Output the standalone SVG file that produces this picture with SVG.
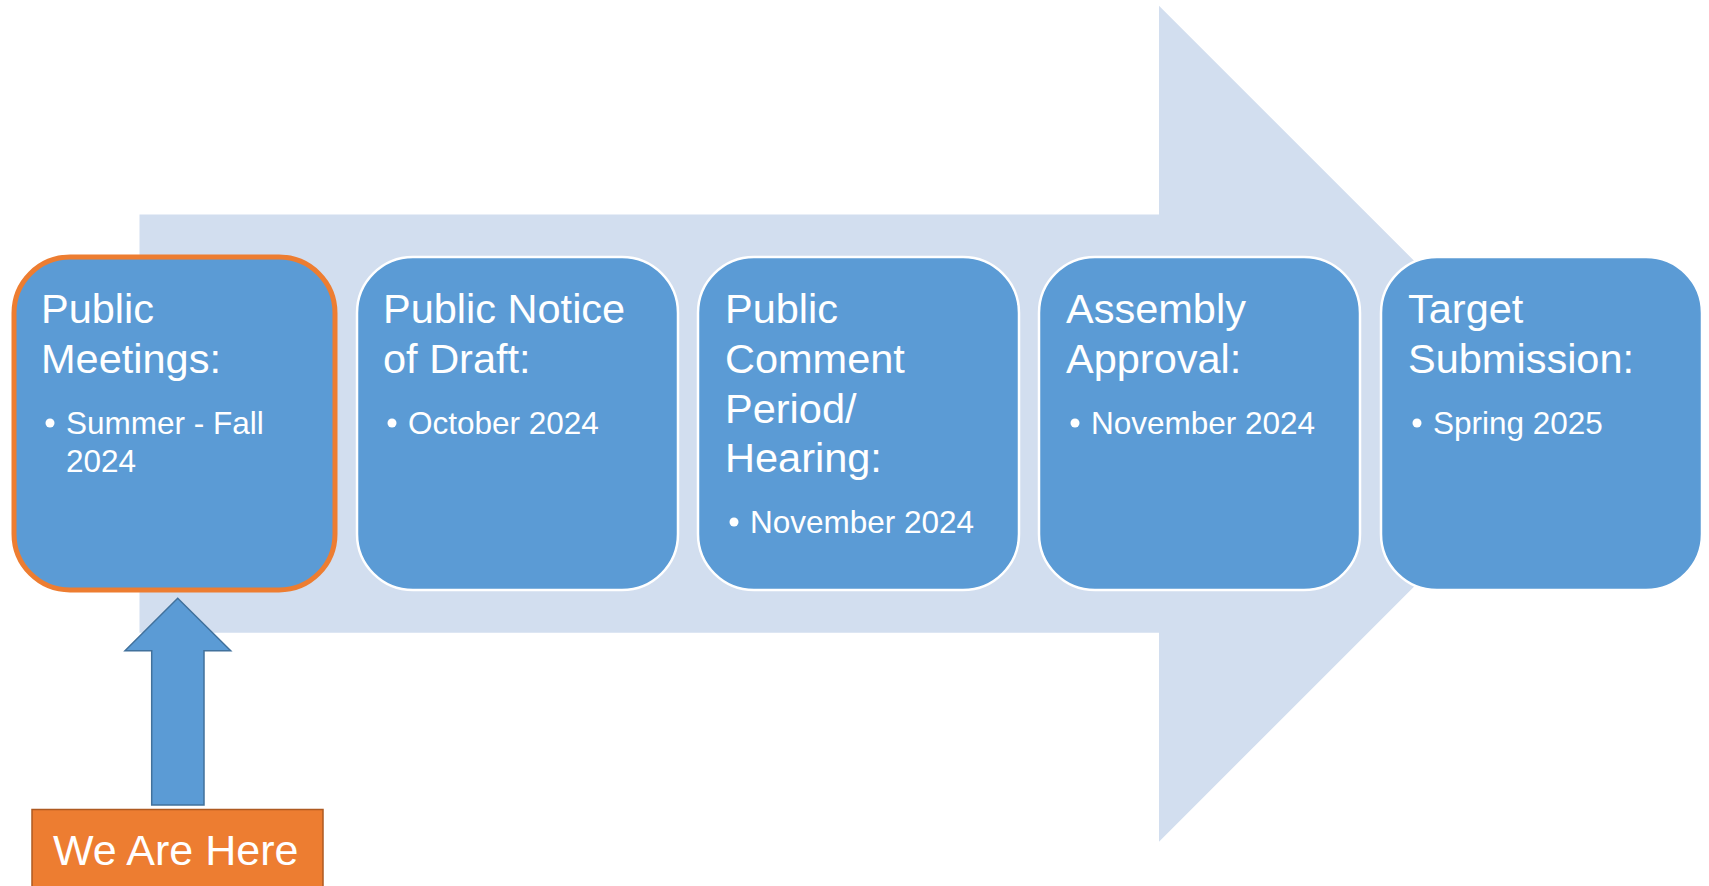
<svg xmlns="http://www.w3.org/2000/svg" width="1709" height="886" viewBox="0 0 1709 886">
<style>
.box{fill:#5B9BD5;stroke:#FFFFFF;stroke-width:2.5}
.cur{fill:#5B9BD5;stroke:#ED7D31;stroke-width:5}
.t{font-family:"Liberation Sans",Arial,sans-serif;fill:#FFFFFF}
.h{font-size:41.5px}
.b{font-size:31.5px}
.dot{fill:#FFFFFF}
</style>
<rect width="1709" height="886" fill="#FFFFFF"/>
<g id="big-arrow">
<path d="M139.5,214.5 H1159 V5.7 L1577,423.7 L1159,841.7 V632.7 H139.5 Z" fill="#D2DEEF"/>
</g>
<g id="node-public-meetings">
<rect class="cur" x="14" y="257" width="321" height="333" rx="56"/>
<text class="t h" x="41" y="323">Public</text>
<text class="t h" x="41" y="372.5">Meetings:</text>
<circle class="dot" cx="50" cy="423" r="4.5"/>
<text class="t b" x="66" y="434">Summer - Fall</text>
<text class="t b" x="66" y="472">2024</text>
</g>
<g id="node-public-notice">
<rect class="box" x="357" y="257" width="321" height="333" rx="56"/>
<text class="t h" x="383" y="323">Public Notice</text>
<text class="t h" x="383" y="372.5">of Draft:</text>
<circle class="dot" cx="392" cy="423" r="4.5"/>
<text class="t b" x="408" y="434">October 2024</text>
</g>
<g id="node-public-comment">
<rect class="box" x="698" y="257" width="321" height="333" rx="56"/>
<text class="t h" x="725" y="323">Public</text>
<text class="t h" x="725" y="372.5">Comment</text>
<text class="t h" x="725" y="422.5">Period/</text>
<text class="t h" x="725" y="472">Hearing:</text>
<circle class="dot" cx="734" cy="522" r="4.5"/>
<text class="t b" x="750" y="533">November 2024</text>
</g>
<g id="node-assembly-approval">
<rect class="box" x="1039" y="257" width="321" height="333" rx="56"/>
<text class="t h" x="1066" y="323">Assembly</text>
<text class="t h" x="1066" y="372.5">Approval:</text>
<circle class="dot" cx="1075" cy="423" r="4.5"/>
<text class="t b" x="1091" y="434">November 2024</text>
</g>
<g id="node-target-submission">
<rect class="box" x="1381" y="257" width="321" height="333" rx="56"/>
<text class="t h" x="1408" y="323">Target</text>
<text class="t h" x="1408" y="372.5">Submission:</text>
<circle class="dot" cx="1417" cy="423" r="4.5"/>
<text class="t b" x="1433" y="434">Spring 2025</text>
</g>
<g id="connectors">
<path d="M177.7,598.3 L230.7,650.7 H204 V805 H151.7 V650.7 H125 Z" fill="#5B9BD5" stroke="#41719C" stroke-width="1.5" stroke-linejoin="miter"/>
</g>
<g id="node-we-are-here">
<rect x="32" y="809.5" width="291" height="90" fill="#ED7D31" stroke="#AE5A21" stroke-width="1.5"/>
<text class="t" x="53" y="865" font-size="43px">We Are Here</text>
</g>
</svg>
